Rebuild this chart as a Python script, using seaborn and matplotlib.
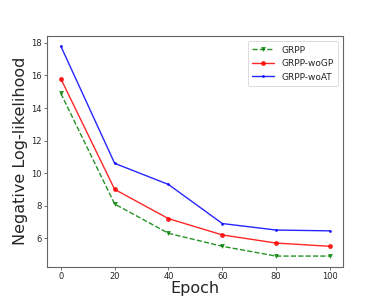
import matplotlib
matplotlib.use("Agg")
import matplotlib.pyplot as plt
import seaborn as sns
import pandas as pd

epochs = [0, 20, 40, 60, 80, 100]
grpp = [14.9, 8.1, 6.3, 5.5, 4.9, 4.9]
grpp_wogp = [15.8, 9.0, 7.2, 6.2, 5.7, 5.5]
grpp_woat = [17.8, 10.6, 9.3, 6.9, 6.5, 6.45]
series_names = ["GRPP", "GRPP-woGP", "GRPP-woAT"]

sns.set_style("white")
plt.rcParams['font.family'] = ['DejaVu Sans']

df = pd.DataFrame({
    "Epoch": epochs * 3,
    "NLL": grpp + grpp_wogp + grpp_woat,
    "Model": [series_names[0]] * 6 + [series_names[1]] * 6 + [series_names[2]] * 6,
})

fig = plt.figure(figsize=(3.82, 3.05), dpi=100)
ax = fig.add_axes([0.124, 0.126, 0.775, 0.757])

styles = {
    "GRPP": dict(color="green", marker="v", linestyle="--", markersize=3.5, alpha=0.85),
    "GRPP-woGP": dict(color="red", marker="o", linestyle="-", markersize=3.5, alpha=0.85),
    "GRPP-woAT": dict(color="blue", marker=".", linestyle="-", markersize=4, alpha=0.85),
}
for name in series_names:
    sub = df[df["Model"] == name]
    st = styles[name]
    sns.lineplot(data=sub, x="Epoch", y="NLL", ax=ax, label=name,
                 color=st["color"], marker=st["marker"], linestyle=st["linestyle"],
                 markersize=st["markersize"], alpha=st["alpha"], linewidth=1.0,
                 markeredgewidth=0)

ax.set_xticks(epochs)
ax.set_yticks([6, 8, 10, 12, 14, 16, 18])
ax.tick_params(axis="both", labelsize=6, length=2, width=0.6, color="#555555",
               direction="out", bottom=True, left=True, pad=2)
for s in ax.spines.values():
    s.set_color("#666666")
    s.set_linewidth(0.8)
ax.set_xlabel("Epoch", fontsize=11.5, labelpad=0)
ax.set_ylabel("Negative Log-likelihood", fontsize=11.5, labelpad=2)
leg = ax.legend(loc="upper right", fontsize=6.5, frameon=True, handlelength=2.4,
                borderpad=0.5, labelspacing=0.5, borderaxespad=0.6)
leg.get_frame().set_edgecolor("#cccccc")
leg.get_frame().set_linewidth(0.6)

fig.savefig("out.png", dpi=100)
